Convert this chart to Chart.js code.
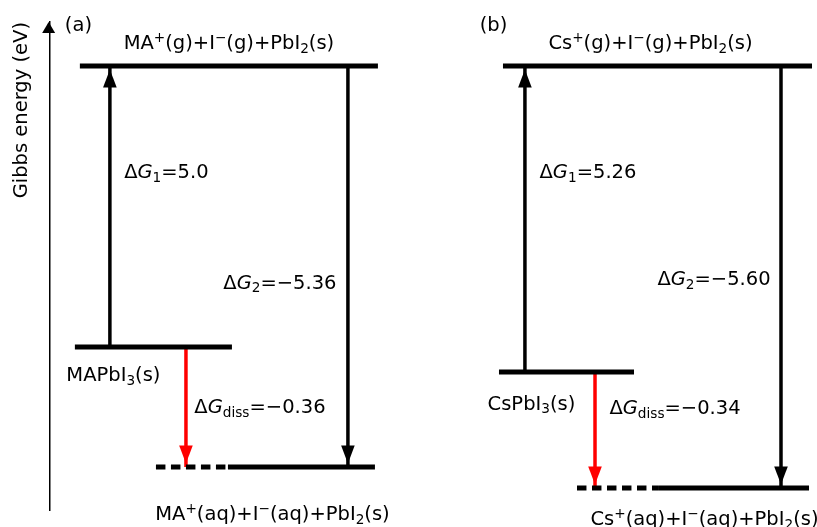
<!DOCTYPE html>
<html>
<head>
<meta charset="utf-8">
<script src="https://cdn.jsdelivr.net/npm/chart.js@4.4.1/dist/chart.umd.min.js"></script>
<style>
  html, body { margin: 0; padding: 0; background: #fff; }
  #wrap { width: 817px; height: 527px; }
</style>
</head>
<body>
<div id="wrap"><canvas id="diagram"></canvas></div>
<script>
// Panel tags and the three states of each cycle
const panelTags = ['(a)', '(b)'];
const gasStates = ['MA^{+}(g)+I^{−}(g)+PbI_{2}(s)', 'Cs^{+}(g)+I^{−}(g)+PbI_{2}(s)'];
const solidStates = ['MAPbI_{3}(s)', 'CsPbI_{3}(s)'];
const aqStates = ['MA^{+}(aq)+I^{−}(aq)+PbI_{2}(s)', 'Cs^{+}(aq)+I^{−}(aq)+PbI_{2}(s)'];

// Gibbs energy changes (eV)
const dG1 = [5.0, 5.26];
const dG2 = [-5.36, -5.60];
const dGdiss = [-0.36, -0.34];

// Level heights on the schematic energy axis (not to scale)
const gasLevel = [9.1, 9.1];
const solidLevel = [3.34, 2.83];
const aqLevel = [0.88, 0.45];

// Horizontal placement of each panel (x axis runs 0..100)
const layout = [
  {
    gas: [3.97, 42.80], solid: [3.32, 23.78], aqDash: [13.88, 23.26], aqSolid: [23.26, 42.41],
    upX: 7.88, dissX: 17.79, downX: 38.89,
    text: { tag: [3.78, 9.94], gas: [23.39, 9.58], dG1: [15.24, 6.93], dG2: [30.03, 4.67],
            solid: [8.34, 2.77], diss: [27.43, 2.11], aq: [29.06, -0.08] }
  },
  {
    gas: [59.09, 99.35], solid: [58.57, 76.16], aqDash: [68.73, 79.41], aqSolid: [79.41, 98.96],
    upX: 61.95, dissX: 71.08, downX: 95.31,
    text: { tag: [57.85, 9.94], gas: [78.31, 9.58], dG1: [70.16, 6.93], dG2: [86.58, 4.75],
            solid: [62.80, 2.19], diss: [81.50, 2.09], aq: [85.34, -0.18] }
  }
];

const FONT = '"DejaVu Sans", sans-serif';
const FS = 19.5;
const BLACK = '#000000';
const RED = '#ff0000';

function fmt(v) {
  const s = Number.isInteger(v) ? v.toFixed(1) : v.toFixed(2);
  return s.replace('-', '−');
}

// horizontal energy level
function levelLine(span, y, dashed) {
  return {
    data: [{ x: span[0], y: y }, { x: span[1], y: y }],
    borderColor: BLACK,
    borderWidth: 5,
    borderCapStyle: 'butt',
    borderDash: dashed ? [9.5, 5.5] : [],
    pointRadius: 0,
    fill: false
  };
}

// vertical arrow shaft, head added by plugin
function arrowLine(x, y0, y1, color) {
  return {
    data: [{ x: x, y: y0 }, { x: x, y: y1 }],
    borderColor: color,
    borderWidth: 3.5,
    borderCapStyle: 'butt',
    pointRadius: 0,
    fill: false,
    arrow: true
  };
}

const datasets = [];
panelTags.forEach((tag, i) => {
  const L = layout[i];
  datasets.push(levelLine(L.gas, gasLevel[i]));
  datasets.push(levelLine(L.solid, solidLevel[i]));
  datasets.push(levelLine(L.aqDash, aqLevel[i], true));
  datasets.push(levelLine(L.aqSolid, aqLevel[i]));
  datasets.push(arrowLine(L.upX, solidLevel[i], gasLevel[i], BLACK));
  datasets.push(arrowLine(L.downX, gasLevel[i], aqLevel[i], BLACK));
  datasets.push(arrowLine(L.dissX, solidLevel[i], aqLevel[i], RED));
});

// split "A^{+}_{2}*G*" style strings into runs
function parseRich(str) {
  const segs = [];
  let i = 0;
  while (i < str.length) {
    const c = str[i];
    if ((c === '^' || c === '_') && str[i + 1] === '{') {
      const end = str.indexOf('}', i);
      segs.push({ text: str.slice(i + 2, end), mode: c === '^' ? 'sup' : 'sub' });
      i = end + 1;
    } else if (c === '*') {
      const end = str.indexOf('*', i + 1);
      segs.push({ text: str.slice(i + 1, end), mode: 'normal', italic: true });
      i = end + 1;
    } else {
      let j = i;
      while (j < str.length && !'^_*'.includes(str[j])) j++;
      if (j === i) j++;
      segs.push({ text: str.slice(i, j), mode: 'normal' });
      i = j;
    }
  }
  return segs;
}

function segFont(s) {
  const size = s.mode === 'normal' ? FS : FS * 0.7;
  return (s.italic ? 'italic ' : '') + size + 'px ' + FONT;
}

function drawRich(ctx, str, cx, cy) {
  const segs = parseRich(str);
  let total = 0;
  segs.forEach(s => {
    ctx.font = segFont(s);
    s.w = ctx.measureText(s.text).width;
    total += s.w;
  });
  let x = cx - total / 2;
  const base = cy + FS * 0.33;
  ctx.textAlign = 'left';
  ctx.textBaseline = 'alphabetic';
  segs.forEach(s => {
    ctx.font = segFont(s);
    let y = base;
    if (s.mode === 'sup') y = base - FS * 0.36;
    if (s.mode === 'sub') y = base + FS * 0.2;
    ctx.fillText(s.text, x, y);
    x += s.w;
  });
}

const arrowHeads = {
  id: 'arrowHeads',
  afterDatasetsDraw(chart) {
    const ctx = chart.ctx;
    ctx.save();
    chart.data.datasets.forEach((ds, i) => {
      if (!ds.arrow) return;
      const pts = chart.getDatasetMeta(i).data;
      const p0 = pts[0], p1 = pts[1];
      const dir = Math.sign(p1.y - p0.y);
      const tip = p1.y - dir * 3.5;
      const base = tip - dir * 18;
      ctx.fillStyle = ds.borderColor;
      ctx.beginPath();
      ctx.moveTo(p1.x, tip);
      ctx.lineTo(p1.x - 6.8, base);
      ctx.lineTo(p1.x + 6.8, base);
      ctx.closePath();
      ctx.fill();
    });
    // arrow on top of the energy axis
    const y = chart.scales.y;
    const ax = y.right - 0.75;
    ctx.fillStyle = BLACK;
    ctx.beginPath();
    ctx.moveTo(ax, chart.chartArea.top);
    ctx.lineTo(ax - 6.5, chart.chartArea.top + 11);
    ctx.lineTo(ax + 6.5, chart.chartArea.top + 11);
    ctx.closePath();
    ctx.fill();
    ctx.restore();
  }
};

const levelLabels = {
  id: 'levelLabels',
  afterDraw(chart) {
    const ctx = chart.ctx;
    const xs = chart.scales.x, ys = chart.scales.y;
    const put = (str, pos) => drawRich(ctx, str, xs.getPixelForValue(pos[0]), ys.getPixelForValue(pos[1]));
    ctx.save();
    ctx.fillStyle = BLACK;
    panelTags.forEach((tag, i) => {
      const T = layout[i].text;
      put(tag, T.tag);
      put(gasStates[i], T.gas);
      put('Δ*G*_{1}=' + fmt(dG1[i]), T.dG1);
      put('Δ*G*_{2}=' + fmt(dG2[i]), T.dG2);
      put(solidStates[i], T.solid);
      put('Δ*G*_{diss}=' + fmt(dGdiss[i]), T.diss);
      put(aqStates[i], T.aq);
    });
    ctx.restore();
  }
};

Chart.defaults.font.family = FONT;
Chart.defaults.color = BLACK;

new Chart(document.getElementById('diagram'), {
  type: 'line',
  data: { datasets: datasets },
  options: {
    responsive: true,
    maintainAspectRatio: false,
    animation: false,
    events: [],
    layout: { padding: { left: 10, top: 22, right: 0, bottom: 17 } },
    plugins: {
      legend: { display: false },
      tooltip: { enabled: false }
    },
    scales: {
      x: { type: 'linear', min: 0, max: 100, display: false },
      y: {
        type: 'linear',
        min: 0,
        max: 10,
        grid: { display: false, drawTicks: false },
        ticks: { display: false },
        border: { display: true, color: BLACK, width: 1.5 },
        title: {
          display: true,
          text: 'Gibbs energy (eV)',
          align: 'end',
          color: BLACK,
          font: { size: FS, family: FONT },
          padding: { top: 0, bottom: 16 }
        }
      }
    }
  },
  plugins: [arrowHeads, levelLabels]
});
</script>
</body>
</html>
